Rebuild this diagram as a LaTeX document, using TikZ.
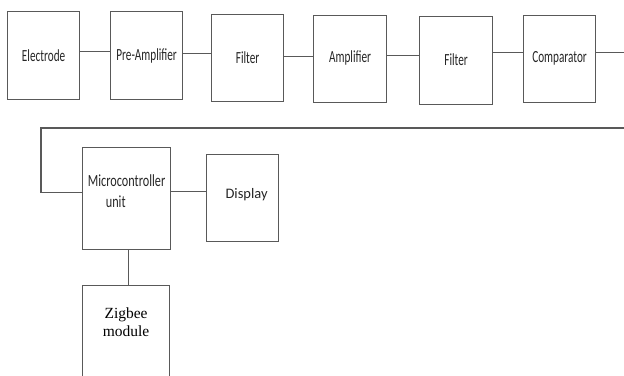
\documentclass[tikz,border=0pt]{standalone}
\usepackage{fontspec}
\newfontfamily\blockfont{Carlito}[FakeStretch=0.66]
\newfontfamily\mcufont{Carlito}[FakeStretch=0.72]
\newfontfamily\dispfont{Carlito}
\newfontfamily\serifblock{Liberation Serif}
\begin{document}
\begin{tikzpicture}[x=1pt, y=-1pt,
  wire/.style={draw=black!65, line width=1.1pt},
  blockbox/.style={draw=black!65, line width=1.2pt, anchor=north west, inner sep=0pt,
    font=\blockfont\fontsize{17}{19}\selectfont, text=black!85}]
\useasboundingbox (0,0) rectangle (624,375);
\clip (0,0) rectangle (624,375);

% signal chain, first row
\node[blockbox, minimum width=72pt, minimum height=88pt] (elec) at (7,11) {\raisebox{1pt}{Electrode}};
\node[blockbox, minimum width=72pt, minimum height=88pt] (pre) at (110,11) {\raisebox{1pt}{Pre-Amplifier}};
\node[blockbox, minimum width=72pt, minimum height=87pt] (filt1) at (211,14) {\raisebox{1pt}{Filter}};
\node[blockbox, minimum width=73pt, minimum height=87pt] (amp) at (313,15) {\raisebox{5pt}{Amplifier}};
\node[blockbox, minimum width=73pt, minimum height=88pt] (filt2) at (419,16) {\raisebox{3pt}{Filter}};
\node[blockbox, minimum width=72pt, minimum height=87pt] (comp) at (523,15) {\raisebox{5pt}{Comparator}};

% second row
\node[blockbox, minimum width=88pt, minimum height=102pt,
  label={[font=\mcufont\fontsize{17}{19}\selectfont, text=black!85, align=left, yshift=7pt]center:{Microcontroller\\[2pt]\hspace*{18pt}unit}}]
  (mcu) at (82,147) {};
\node[blockbox, minimum width=72pt, minimum height=87pt, font=\dispfont\fontsize{14.5}{17}\selectfont] (disp) at (206,154)
  {\raisebox{9pt}{\hspace*{8pt}Display}};
\node[blockbox, minimum width=87pt, minimum height=110pt, align=center,
  font=\serifblock\fontsize{15.5}{19}\selectfont, text=black] (zig) at (82,285)
  {\raisebox{49pt}{\begin{tabular}{@{}c@{}}Zigbee\\[-1pt]module\end{tabular}}};

% free ends at the right edge and the return corner
\coordinate (rend) at (624,52);
\coordinate (rtop) at (624,128);
\coordinate (lcorner) at (41,128);

% connectors
\draw[wire] ([yshift=4pt]elec.east) -- ([yshift=4pt]elec.east -| pre.west);
\draw[wire] ([yshift=2pt]pre.east) -- ([yshift=2pt]pre.east -| filt1.west);
\draw[wire] ([yshift=1.5pt]filt1.east) -- ([yshift=1.5pt]filt1.east -| amp.west);
\draw[wire] ([yshift=3.5pt]amp.east) -- ([yshift=3.5pt]amp.east -| filt2.west);
\draw[wire] ([yshift=8pt]filt2.east) -- ([yshift=8pt]filt2.east -| comp.west);
\draw[wire] ([yshift=6.5pt]comp.east) -- ([yshift=6.5pt]comp.east -| rend);
\draw[wire] (rtop) -- (lcorner) |- ([yshift=6pt]mcu.west);
\draw[wire] ([yshift=7pt]mcu.east) -- ([yshift=7pt]mcu.east -| disp.west);
\draw[wire] ([xshift=2pt]mcu.south) -- ([xshift=2pt]mcu.south |- zig.north);
\end{tikzpicture}
\end{document}
